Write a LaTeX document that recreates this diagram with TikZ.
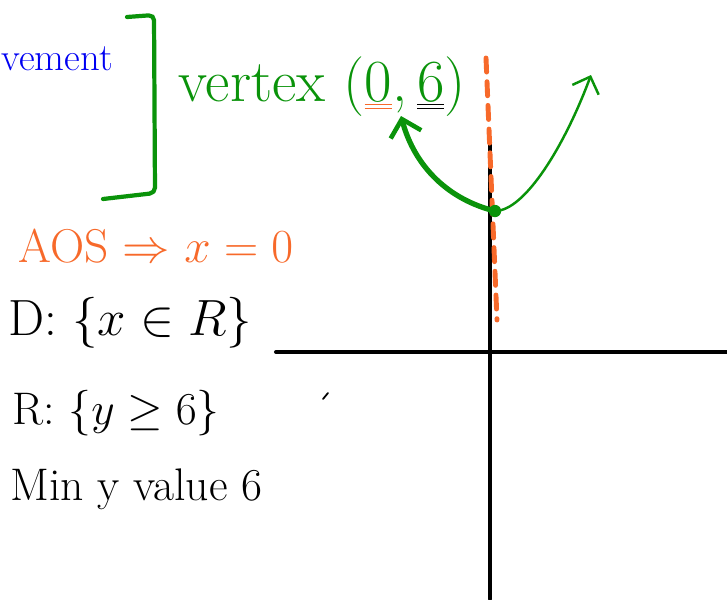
\RequirePackage{fix-cm}
\documentclass[tikz,border=0pt]{standalone}
\usepackage{xcolor}
\usetikzlibrary{arrows.meta}
\definecolor{Gc}{HTML}{0A930A}
\definecolor{Oc}{HTML}{F7692A}
\definecolor{Bc}{HTML}{0000F2}
\tikzset{
  ax/.style={line width=2.3pt, line cap=round},
  symm/.style={Oc, line width=2.8pt, dash pattern=on 8pt off 5.5pt, line cap=round},
  armL/.style={Gc, line width=3pt, -{Straight Barb[length=9pt, width=18pt, line width=2.6pt]}},
  armR/.style={Gc, line width=1.4pt, -{Straight Barb[length=8pt, width=16pt, line width=1.4pt]}},
  brk/.style={Gc, line width=2.4pt, line cap=round, rounded corners=3pt},
  vdot/.style={circle, fill=Gc, inner sep=0pt, minimum size=7pt},
  hw/.style={inner sep=0pt, anchor=base west},
}
\newcommand{\uu}[2]{{\color{#1}\underline{\underline{\color{Gc}#2}}}}

\begin{document}
\begin{tikzpicture}[x=0.02cm, y=-0.02cm]
  \useasboundingbox (0,0) rectangle (727,599);
  % axes
  \coordinate (xl) at (276,352); \coordinate (xr) at (727,352);
  \coordinate (yt) at (490,144); \coordinate (yb) at (490,599);
  \draw[ax] (xl) -- (xr);
  \draw[ax] (yt) -- (yb);
  % axis of symmetry, a bit slanted
  \coordinate (st) at (486,58); \coordinate (sb) at (497,320);
  \draw[symm] (st) -- (sb);
  % parabola: vertex and its two arms
  \coordinate (tl) at (401,116); \coordinate (tr) at (591,75);
  \draw[armL] (495,211) .. controls (450,200) and (415,168) .. (tl);
  \draw[armR] (495,211) .. controls (525,211) and (565,145) .. (tr);
  \node[vdot] (v) at (495,211) {};
  % bracket and stray tick
  \coordinate (b1) at (127,17); \coordinate (b2) at (154,15);
  \coordinate (b3) at (155,193); \coordinate (b4) at (103,199);
  \draw[brk] (b1) -- (b2) -- (b3) -- (b4);
  \coordinate (k1) at (323,399); \coordinate (k2) at (328,393);
  \draw[line width=1pt, line cap=round] (k1) -- (k2);
  % labels
  \node[hw, Bc, font=\fontsize{22}{26}\selectfont] (mov) at (1,70) {vement};
  \node[hw, Gc, font=\fontsize{34}{38}\selectfont] (vlab) at (178,101)
    {vertex (\uu{Oc}{0},\,\uu{black}{6})};
  \node[hw, Oc, font=\fontsize{27}{32}\selectfont] (aos) at (18,262) {AOS $\Rightarrow$ $x = 0$};
  \node[hw, font=\fontsize{29}{34}\selectfont] (dom) at (8,335) {D: $\{x \in R\}$};
  \node[hw, font=\fontsize{26}{30}\selectfont] (rng) at (12,424) {R: $\{y \geq 6\}$};
  \node[hw, font=\fontsize{26}{30}\selectfont] (minv) at (10,500) {Min y value 6};
\end{tikzpicture}
\end{document}
